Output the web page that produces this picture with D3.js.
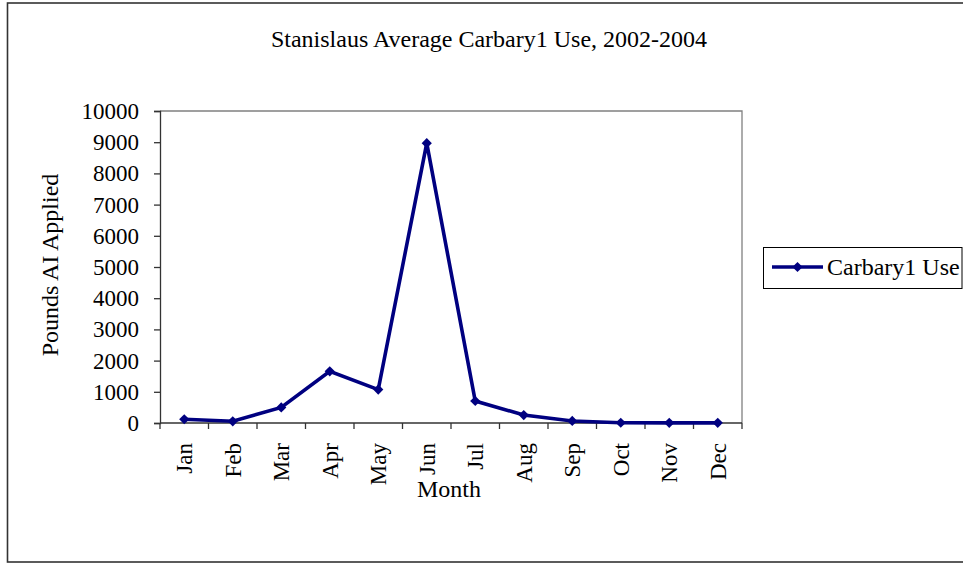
<!DOCTYPE html>
<html>
<head>
<meta charset="utf-8">
<script src="https://cdn.jsdelivr.net/npm/d3@7"></script>
<style>
  html, body { margin: 0; padding: 0; background: #fff; }
  svg { display: block; }
  text { font-family: "Liberation Serif", "Times New Roman", serif; fill: #000; }
</style>
</head>
<body>
<svg id="chart" width="963" height="563"></svg>
<script>
const title = "Stanislaus Average Carbary1 Use, 2002-2004";
const months = ["Jan","Feb","Mar","Apr","May","Jun","Jul","Aug","Sep","Oct","Nov","Dec"];
const carbarylUse = [120, 55, 500, 1655, 1070, 8970, 705, 255, 65, 8, 5, 5];
const yTicks = [0,1000,2000,3000,4000,5000,6000,7000,8000,9000,10000];
const seriesName = "Carbary1 Use";
const xTitle = "Month";
const yTitle = "Pounds AI Applied";

const svg = d3.select("#chart");
const FS = 23;
const FT = 24;
const lineColor = "#000080";

// outer frame
svg.append("rect").attr("x", 7.5).attr("y", 3).attr("width", 980).attr("height", 559)
  .attr("fill", "none").attr("stroke", "#333").attr("stroke-width", 1.6);

const plot = { left: 160, top: 111, right: 742, bottom: 423 };

const x = d3.scaleBand().domain(months).range([plot.left, plot.right]);
const y = d3.scaleLinear().domain([0, 10000]).range([plot.bottom, plot.top]);

// plot area border (top/right gray)
svg.append("path")
  .attr("d", `M${plot.left},${plot.top}H${plot.right}V${plot.bottom}`)
  .attr("fill", "none").attr("stroke", "#808080").attr("stroke-width", 1.3);

// y axis
const yAxis = d3.axisLeft(y).tickValues(yTicks).tickSize(6).tickPadding(15).tickFormat(d3.format("d"));
const gy = svg.append("g").attr("transform", `translate(${plot.left},0)`).call(yAxis);
gy.select(".domain").attr("stroke", "#333").attr("stroke-width", 1.3);
gy.selectAll(".tick line").attr("stroke", "#333").attr("stroke-width", 1.3);
gy.selectAll(".tick text").attr("font-size", FS).attr("font-family", "Liberation Serif").attr("fill", "#000").attr("dy", "0.33em");

// x axis line + ticks at band boundaries
const boundaries = months.map(m => x(m)).concat([plot.right]);
svg.append("line").attr("x1", plot.left).attr("x2", plot.right).attr("y1", plot.bottom).attr("y2", plot.bottom)
  .attr("stroke", "#333").attr("stroke-width", 1.3);
svg.append("g").selectAll("line").data(boundaries).join("line")
  .attr("x1", d => d).attr("x2", d => d).attr("y1", plot.bottom).attr("y2", plot.bottom + 6)
  .attr("stroke", "#333").attr("stroke-width", 1.3);

// x tick labels rotated
svg.append("g").selectAll("text").data(months).join("text")
  .attr("transform", d => `translate(${x(d) + x.bandwidth()/2},${443}) rotate(-90)`)
  .attr("text-anchor", "end").attr("dy", "0.35em").attr("font-size", FS)
  .text(d => d);

// line
const line = d3.line().x((d, i) => x(months[i]) + x.bandwidth()/2).y(d => y(d));
svg.append("path").datum(carbarylUse).attr("d", line)
  .attr("fill", "none").attr("stroke", lineColor).attr("stroke-width", 3.6).attr("stroke-linejoin", "miter");

// markers
const diamond = d3.symbol().type(d3.symbolSquare).size(52);
svg.append("g").selectAll("path").data(carbarylUse).join("path")
  .attr("d", diamond)
  .attr("transform", (d, i) => `translate(${x(months[i]) + x.bandwidth()/2},${y(d)}) rotate(45)`)
  .attr("fill", lineColor);

// title
svg.append("text").attr("x", 489).attr("y", 47).attr("text-anchor", "middle").attr("font-size", FT).text(title);

// axis titles
svg.append("text").attr("x", 449).attr("y", 497).attr("text-anchor", "middle").attr("font-size", FT).text(xTitle);
svg.append("text").attr("transform", `translate(58,265) rotate(-90)`).attr("text-anchor", "middle").attr("font-size", FT).text(yTitle);

// legend
svg.append("rect").attr("x", 763.5).attr("y", 247.5).attr("width", 198.5).attr("height", 41)
  .attr("fill", "#fff").attr("stroke", "#000").attr("stroke-width", 1);
svg.append("line").attr("x1", 772).attr("x2", 823).attr("y1", 267).attr("y2", 267)
  .attr("stroke", lineColor).attr("stroke-width", 3.6);
svg.append("path").attr("d", diamond).attr("transform", "translate(797.5,267) rotate(45)").attr("fill", lineColor);
svg.append("text").attr("x", 827).attr("y", 275).attr("font-size", FT).text(seriesName);
</script>
</body>
</html>
